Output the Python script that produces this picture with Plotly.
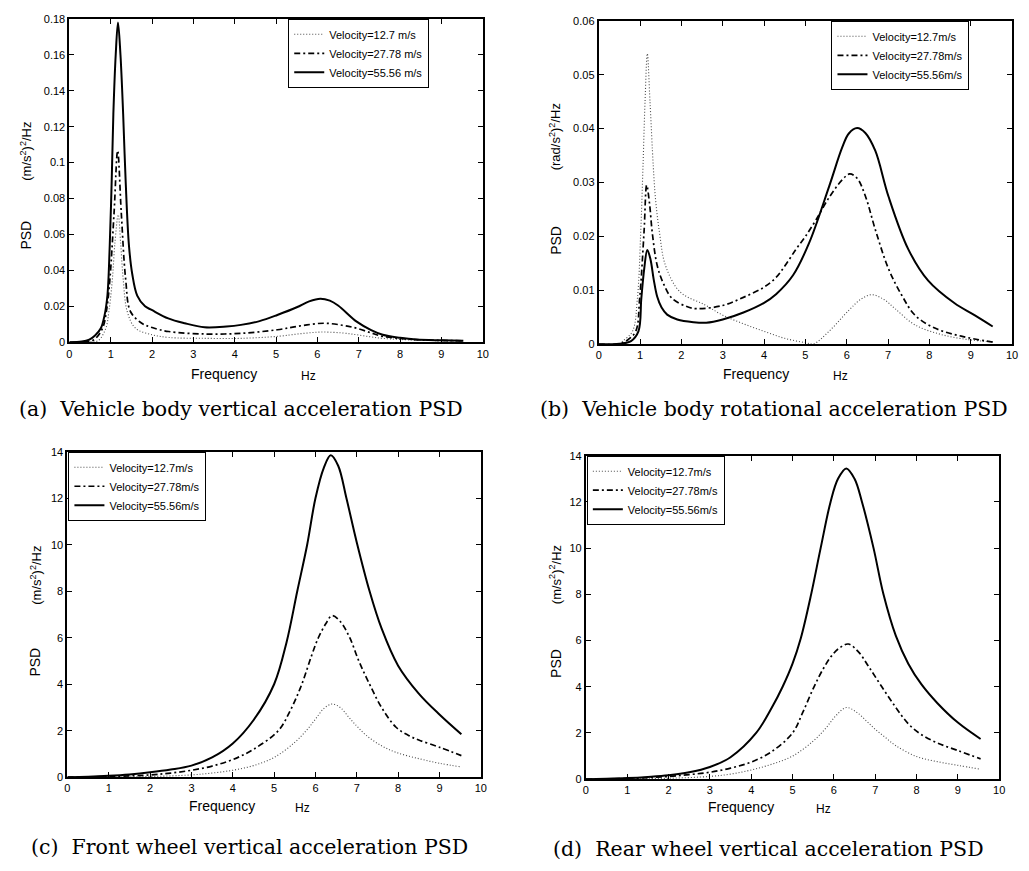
import plotly.graph_objects as go

# ---------------- data ----------------
x_ticks = list(range(11))

# (a) Vehicle body vertical acceleration PSD
a_v1_f = [0, 0.5, 0.7, 0.88, 0.96, 1.04, 1.1, 1.18, 1.24, 1.30, 1.40, 1.6, 2.0, 2.4, 3.3, 4.15, 5.03, 5.6, 6.1, 6.6, 6.95, 7.3, 7.58, 8.4, 9.53]
a_v1_v = [0, 0.0002, 0.001, 0.0078, 0.018, 0.0353, 0.055, 0.071, 0.055, 0.0353, 0.017, 0.0078, 0.0042, 0.0027, 0.0022, 0.0022, 0.0033, 0.0048, 0.0057, 0.0052, 0.0042, 0.003, 0.0022, 0.0012, 0.0007]
a_v2_f = [0, 0.4, 0.6, 0.8, 0.9, 0.98, 1.08, 1.167, 1.255, 1.36, 1.48, 1.76, 2.0, 2.4, 3.3, 4.15, 5.03, 5.6, 6.15, 6.6, 6.95, 7.3, 7.58, 8.0, 8.39, 9.53]
a_v2_v = [0, 0.0003, 0.0015, 0.0078, 0.018, 0.0353, 0.0719, 0.1066, 0.0719, 0.0353, 0.017, 0.0105, 0.0082, 0.006, 0.0046, 0.005, 0.007, 0.0092, 0.0106, 0.0095, 0.0078, 0.0052, 0.0033, 0.0022, 0.0015, 0.0008]
a_v3_f = [0, 0.3, 0.48, 0.62, 0.76, 0.85, 0.92, 0.975, 1.023, 1.063, 1.12, 1.175, 1.235, 1.30, 1.36, 1.44, 1.52, 1.64, 1.83, 1.99, 2.39, 2.79, 3.27, 3.8, 4.15, 4.6, 5.03, 5.5, 5.8, 6.07, 6.3, 6.5, 6.95, 7.3, 7.58, 8.0, 8.39, 9.0, 9.53]
a_v3_v = [0, 0.0004, 0.0015, 0.0038, 0.0078, 0.015, 0.0262, 0.0536, 0.090, 0.127, 0.160, 0.178, 0.160, 0.127, 0.090, 0.054, 0.038, 0.026, 0.020, 0.018, 0.0133, 0.0106, 0.0084, 0.0088, 0.0097, 0.0118, 0.0152, 0.0195, 0.0228, 0.0243, 0.0232, 0.0205, 0.0115, 0.0068, 0.0042, 0.0025, 0.0015, 0.0011, 0.0009]

# (b) Vehicle body rotational acceleration PSD
b_v1_f = [0, 0.5, 0.58, 0.815, 0.935, 1.015, 1.07, 1.12, 1.175, 1.24, 1.32, 1.375, 1.47, 1.615, 1.97, 2.57, 3.0, 3.5, 4.0, 4.5, 5.0, 5.2, 5.57, 6.05, 6.35, 6.61, 6.9, 7.17, 7.65, 8.29, 9.0, 9.53]
b_v1_v = [0, 0.0001, 0.0006, 0.0024, 0.0085, 0.0207, 0.0329, 0.045, 0.0539, 0.045, 0.0329, 0.0268, 0.0207, 0.0146, 0.0097, 0.0073, 0.0054, 0.0038, 0.0024, 0.0011, 0.0003, 0.0001, 0.0024, 0.0063, 0.0084, 0.0092, 0.0083, 0.0066, 0.0036, 0.0018, 0.0008, 0.0005]
b_v2_f = [0, 0.5, 0.7, 0.895, 0.99, 1.095, 1.16, 1.23, 1.295, 1.415, 1.58, 1.775, 2.13, 2.37, 3.0, 3.5, 4.0, 4.29, 4.5, 4.77, 5.0, 5.25, 5.57, 5.89, 6.07, 6.25, 6.45, 6.69, 7.01, 7.33, 7.65, 8.13, 8.77, 9.53]
b_v2_v = [0, 0.0001, 0.0008, 0.0024, 0.0085, 0.0207, 0.0295, 0.026, 0.0207, 0.0146, 0.011, 0.0085, 0.0070, 0.0066, 0.0072, 0.0087, 0.0106, 0.0124, 0.0145, 0.0176, 0.0200, 0.0230, 0.0272, 0.0305, 0.0316, 0.0308, 0.0275, 0.0213, 0.014, 0.0091, 0.0054, 0.003, 0.0015, 0.0004]
b_v3_f = [0, 0.5, 0.78, 0.96, 1.03, 1.1, 1.175, 1.25, 1.33, 1.415, 1.52, 1.655, 1.9, 2.29, 2.6, 3.0, 3.5, 4.0, 4.29, 4.7, 5.09, 5.57, 5.89, 6.05, 6.25, 6.45, 6.69, 7.01, 7.49, 7.97, 8.61, 9.09, 9.53]
b_v3_v = [0, 0.0001, 0.0006, 0.0024, 0.0085, 0.014, 0.0175, 0.0158, 0.012, 0.0088, 0.0068, 0.0055, 0.0046, 0.0041, 0.0040, 0.0046, 0.0059, 0.0077, 0.0093, 0.0128, 0.0188, 0.0292, 0.0365, 0.0391, 0.0401, 0.0392, 0.0359, 0.0274, 0.0176, 0.0118, 0.0076, 0.0054, 0.0033]

# (c) Front wheel vertical acceleration PSD
c_v1_f = [0, 1, 2, 3, 3.5, 4, 4.5, 5, 5.5, 5.8, 6.0, 6.2, 6.4, 6.6, 6.8, 7.0, 7.23, 7.6, 7.95, 8.5, 9.0, 9.53]
c_v1_v = [0, 0.01, 0.03, 0.1, 0.18, 0.3, 0.5, 0.85, 1.5, 2.05, 2.5, 2.95, 3.15, 3.0, 2.6, 2.2, 1.8, 1.35, 1.07, 0.8, 0.6, 0.44]
c_v2_f = [0, 1, 2, 2.5, 3, 3.5, 4, 4.5, 5.1, 5.4, 5.67, 5.9, 6.07, 6.25, 6.4, 6.6, 6.83, 7.05, 7.31, 7.6, 7.95, 8.25, 8.5, 9.0, 9.53]
c_v2_v = [0, 0.03, 0.1, 0.18, 0.3, 0.48, 0.76, 1.2, 2.0, 2.9, 4.0, 5.2, 6.0, 6.6, 6.95, 6.7, 6.0, 5.0, 4.0, 3.0, 2.15, 1.8, 1.6, 1.29, 0.93]
c_v3_f = [0, 0.5, 1, 1.5, 2, 2.5, 3, 3.5, 4, 4.5, 5, 5.3, 5.56, 5.8, 6.0, 6.2, 6.37, 6.55, 6.75, 7.0, 7.31, 7.6, 8.0, 8.5, 9.0, 9.53]
c_v3_v = [0, 0.02, 0.06, 0.12, 0.21, 0.33, 0.5, 0.85, 1.45, 2.45, 4.0, 5.8, 8.0, 10.0, 12.0, 13.3, 13.85, 13.4, 12.0, 10.1, 8.0, 6.4, 4.8, 3.6, 2.7, 1.85]

# (d) Rear wheel vertical acceleration PSD
d_v1_f = [0, 1, 2, 3, 3.5, 4, 4.5, 5, 5.5, 5.8, 6.05, 6.3, 6.55, 6.8, 7.0, 7.25, 7.5, 8.0, 8.5, 9.0, 9.55]
d_v1_v = [0, 0.01, 0.04, 0.12, 0.22, 0.4, 0.65, 1.0, 1.65, 2.2, 2.75, 3.1, 2.9, 2.5, 2.16, 1.8, 1.45, 0.98, 0.76, 0.6, 0.43]
d_v2_f = [0, 1, 2, 2.5, 3, 3.5, 4, 4.5, 5.0, 5.25, 5.52, 5.75, 5.95, 6.15, 6.35, 6.6, 6.85, 7.16, 7.5, 7.8, 8.1, 8.5, 9.0, 9.55]
d_v2_v = [0, 0.03, 0.12, 0.2, 0.3, 0.48, 0.74, 1.2, 2.0, 2.9, 4.0, 4.8, 5.35, 5.7, 5.85, 5.5, 4.85, 4.0, 3.1, 2.4, 1.95, 1.57, 1.24, 0.88]
d_v3_f = [0, 0.5, 1, 1.5, 2, 2.5, 3, 3.5, 4.12, 4.5, 4.76, 5.0, 5.2, 5.45, 5.68, 5.92, 6.1, 6.3, 6.5, 6.68, 6.96, 7.2, 7.5, 7.8, 8.12, 8.5, 9.0, 9.55]
d_v3_v = [0, 0.02, 0.05, 0.1, 0.17, 0.3, 0.53, 0.95, 2.0, 3.1, 4.0, 5.0, 6.1, 8.0, 10.0, 12.0, 13.0, 13.45, 13.0, 12.0, 10.0, 8.0, 6.2, 5.0, 4.1, 3.3, 2.45, 1.74]

names_a = ["Velocity=12.7 m/s", "Velocity=27.78 m/s", "Velocity=55.56 m/s"]
names_bcd = ["Velocity=12.7m/s", "Velocity=27.78m/s", "Velocity=55.56m/s"]

y_ticks_a = [0, 0.02, 0.04, 0.06, 0.08, 0.1, 0.12, 0.14, 0.16, 0.18]
y_ticks_b = [0, 0.01, 0.02, 0.03, 0.04, 0.05, 0.06]
y_ticks_cd = [0, 2, 4, 6, 8, 10, 12, 14]

captions = ["(a)  Vehicle body vertical acceleration PSD",
            "(b)  Vehicle body rotational acceleration PSD",
            "(c)  Front wheel vertical acceleration PSD",
            "(d)  Rear wheel vertical acceleration PSD"]
y_units = ["(m/s<sup>2</sup>)<sup>2</sup>/Hz", "(rad/s<sup>2</sup>)<sup>2</sup>/Hz",
           "(m/s<sup>2</sup>)<sup>2</sup>/Hz", "(m/s<sup>2</sup>)<sup>2</sup>/Hz"]

# ---------------- styling / layout ----------------
W, H = 1029, 871
SANS = "Liberation Sans, Arial, sans-serif"
SERIF = "DejaVu Serif, serif"

styles = [
    dict(color="#4a4a4a", width=1.1, dash="1px,2px"),
    dict(color="black", width=1.7, dash="6px,3px,2px,3px"),
    dict(color="black", width=2.0),
]

# panel pixel boxes: (left, right, top, bottom)
boxes = [(67, 484, 13, 341), (601, 1018, 15, 343), (65, 482, 452, 782), (588, 1005, 456, 784)]
panels = [
    ([a_v1_f, a_v2_f, a_v3_f], [a_v1_v, a_v2_v, a_v3_v], names_a, [0, 0.18], y_ticks_a),
    ([b_v1_f, b_v2_f, b_v3_f], [b_v1_v, b_v2_v, b_v3_v], names_bcd, [0, 0.06], y_ticks_b),
    ([c_v1_f, c_v2_f, c_v3_f], [c_v1_v, c_v2_v, c_v3_v], names_bcd, [0, 14], y_ticks_cd),
    ([d_v1_f, d_v2_f, d_v3_f], [d_v1_v, d_v2_v, d_v3_v], names_bcd, [0, 14], y_ticks_cd),
]
legend_pos = [(430, 13, "right"), (975, 15, "right"), (66, 452, "left"), (589, 456, "left")]
freq_pos = [(223, 373), (760, 373), (221, 811), (745, 812)]
hz_pos = [(308, 375), (845, 375), (302, 813), (828, 814)]
psd_pos = [(23, 232), (558, 238), (32, 665), (558, 667)]
unit_pos = [(23, 147), (557, 133), (33, 577), (557, 577)]
cap_pos = [(240, 409), (778, 409), (249, 853), (772, 855)]

fig = go.Figure()
layout = dict(width=W, height=H, margin=dict(l=0, r=0, t=0, b=0),
              paper_bgcolor="white", plot_bgcolor="white", showlegend=True)
annotations = []


def ann(text, pos, size, family=SANS, angle=0):
    annotations.append(dict(text=text, x=pos[0] / W, y=1 - pos[1] / H, xref="paper", yref="paper",
                            showarrow=False, xanchor="center", yanchor="middle", textangle=angle,
                            font=dict(family=family, size=size, color="black")))


for i, (fs, vs, names, yr, yt) in enumerate(panels):
    k = "" if i == 0 else str(i + 1)
    leg = "legend" if i == 0 else "legend" + str(i + 1)
    for j in range(3):
        fig.add_trace(go.Scatter(
            x=fs[j], y=vs[j], mode="lines", name=names[j],
            line=dict(shape="spline", smoothing=1.0, **styles[j]),
            xaxis="x" + k, yaxis="y" + k, legend=leg, showlegend=True,
        ))
    l, r, t, b = boxes[i]
    common = dict(ticks="inside", ticklen=5, tickwidth=1, tickcolor="black",
                  showline=True, linecolor="black", linewidth=2, mirror="ticks",
                  showgrid=False, zeroline=False,
                  tickfont=dict(family=SANS, size=11, color="black"))
    layout["xaxis" + k] = dict(domain=[l / W, r / W], range=[0, 10], tickvals=x_ticks,
                               anchor="y" + k, **common)
    layout["yaxis" + k] = dict(domain=[1 - b / H, 1 - t / H], range=yr, tickvals=yt,
                               anchor="x" + k, **common)
    lx, ly, side = legend_pos[i]
    layout[leg] = dict(x=lx / W, y=1 - ly / H, xanchor=side, yanchor="top",
                       bgcolor="white", bordercolor="black", borderwidth=1,
                       font=dict(family=SANS, size=11, color="black"),
                       itemwidth=30, tracegroupgap=0)

    ann("Frequency", freq_pos[i], 14)
    ann("Hz", hz_pos[i], 12)
    ann("PSD", psd_pos[i], 14, angle=-90)
    ann(y_units[i], unit_pos[i], 13, angle=-90)
    ann(captions[i], cap_pos[i], 20.5, family=SERIF)

layout["annotations"] = annotations
fig.update_layout(**layout)
fig.write_html("out.html")
